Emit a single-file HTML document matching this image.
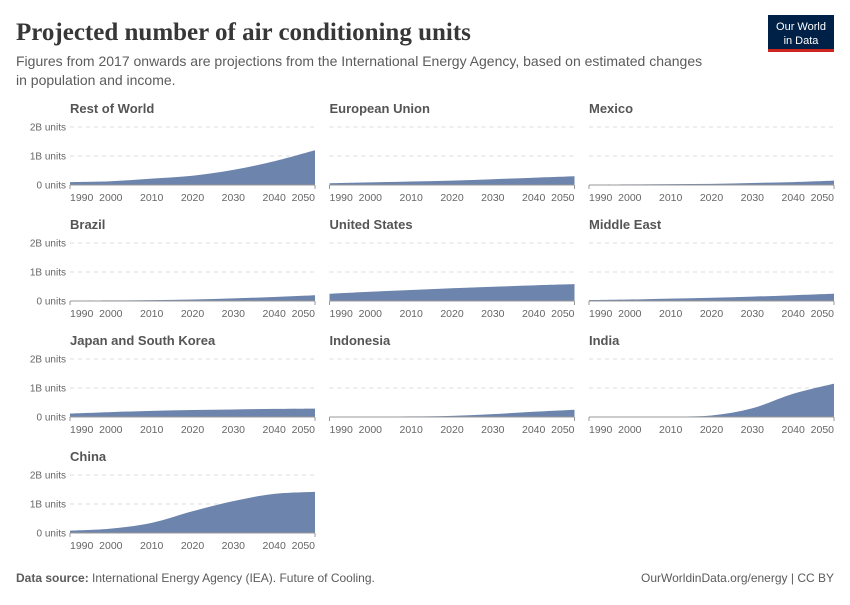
<!DOCTYPE html>
<html><head><meta charset="utf-8"><style>
body{margin:0;background:#fff;width:850px;height:600px;overflow:hidden;font-family:"Liberation Sans",sans-serif;}
</style></head><body>
<svg width="850" height="600">
<text x="16" y="40" font-family="Liberation Serif,serif" font-size="25" font-weight="bold" fill="#373737">Projected number of air conditioning units</text>
<text x="16" y="66" font-size="14" fill="#5b5b5b">Figures from 2017 onwards are projections from the International Energy Agency, based on estimated changes</text>
<text x="16" y="85" font-size="14" fill="#5b5b5b">in population and income.</text>
<g>
<rect x="768" y="15" width="66" height="37" fill="#002147"/>
<rect x="768" y="49" width="66" height="3" fill="#ce261e"/>
<text x="801" y="30" font-size="11" fill="#fff" text-anchor="middle">Our World</text>
<text x="801" y="44" font-size="11" fill="#fff" text-anchor="middle">in Data</text>
</g>
<g id="panels"></g>
<text x="16" y="582" font-size="12" fill="#5b5b5b"><tspan font-weight="bold">Data source:</tspan> International Energy Agency (IEA). Future of Cooling.</text>
<text x="834" y="582" font-size="12" fill="#5b5b5b" text-anchor="end">OurWorldinData.org/energy | CC BY</text>
</svg>
<script>
const years=[1990,2000,2010,2020,2030,2040,2050];
const names=["Rest of World","European Union","Mexico","Brazil","United States","Middle East","Japan and South Korea","Indonesia","India","China"];
const restOfWorld=[0.1,0.13,0.22,0.32,0.52,0.82,1.2];
const europeanUnion=[0.06,0.09,0.12,0.15,0.2,0.25,0.3];
const mexico=[0.01,0.02,0.03,0.04,0.07,0.1,0.15];
const brazil=[0.01,0.02,0.03,0.05,0.09,0.14,0.2];
const unitedStates=[0.25,0.32,0.38,0.44,0.49,0.54,0.58];
const middleEast=[0.03,0.05,0.08,0.11,0.15,0.2,0.25];
const japanKorea=[0.12,0.17,0.21,0.24,0.26,0.28,0.29];
const indonesia=[0.005,0.01,0.02,0.04,0.1,0.18,0.25];
const india=[0.003,0.005,0.015,0.05,0.3,0.8,1.15];
const china=[0.08,0.15,0.35,0.75,1.1,1.35,1.42];
const series=[restOfWorld,europeanUnion,mexico,brazil,unitedStates,middleEast,japanKorea,indonesia,india,china];
const yTicks=[0,1,2];
const yTickLabels=["0 units","1B units","2B units"];
const xTicks=[1990,2000,2010,2020,2030,2040,2050];
const NS="http://www.w3.org/2000/svg";
const g=document.getElementById('panels');
function mk(t,a,p){const e=document.createElementNS(NS,t);for(const k in a)e.setAttribute(k,a[k]);(p||g).appendChild(e);return e;}
function smooth(pts){let d="M"+pts[0][0]+","+pts[0][1];for(let i=0;i<pts.length-1;i++){const p0=pts[Math.max(0,i-1)],p1=pts[i],p2=pts[i+1],p3=pts[Math.min(pts.length-1,i+2)];
const c1=[p1[0]+(p2[0]-p0[0])/6,p1[1]+(p2[1]-p0[1])/6],c2=[p2[0]-(p3[0]-p1[0])/6,p2[1]-(p3[1]-p1[1])/6];d+=" C"+c1+" "+c2+" "+p2;}return d;}
series.forEach((vals,i)=>{
 const col=i%3,row=Math.floor(i/3);
 const x0=70+col*259.5,x1=x0+245,y0=185+row*116;
 const xs=y=>x0+(y-1990)/60*(x1-x0);
 const ys=v=>y0-v*29;
 const pg=mk('g',{});
 
 
 const t=mk('text',{x:x0,y:y0-72,'font-size':13,'font-weight':'bold',fill:'#555'},pg);t.textContent=names[i];
 
 
 yTicks.forEach((v,k)=>{
  if(v>0){const l=mk('line',{x1:x0,x2:x1,y1:ys(v),y2:ys(v),stroke:'#ddd','stroke-dasharray':'4,4'},pg);
  
  }
  if(col===0){
  const tl=mk('text',{x:x0-4,y:ys(v)+3.5,'font-size':10,fill:'#666','text-anchor':'end'},pg);tl.textContent=yTickLabels[k];
  
  }
 });
 const pts=years.map((y,k)=>[xs(y),ys(vals[k])]);
 const a=mk('path',{d:smooth(pts)+" L"+x1+","+y0+" L"+x0+","+y0+" Z",fill:'#6d84ad'},pg);
 
 
 mk('line',{x1:x0,x2:x1,y1:y0,y2:y0,stroke:'#999'},pg);
 mk('line',{x1:x0,x2:x0,y1:y0,y2:y0+4,stroke:'#999'},pg);
 mk('line',{x1:x1,x2:x1,y1:y0,y2:y0+4,stroke:'#999'},pg);
 xTicks.forEach((y,k)=>{
  const anchor=k==0?'start':(k==xTicks.length-1?'end':'middle');
  const xl=mk('text',{x:xs(y),y:y0+16,'font-size':10.5,fill:'#666','text-anchor':anchor},pg);xl.textContent=y;
  
  
 });
});
</script>
</body></html>
